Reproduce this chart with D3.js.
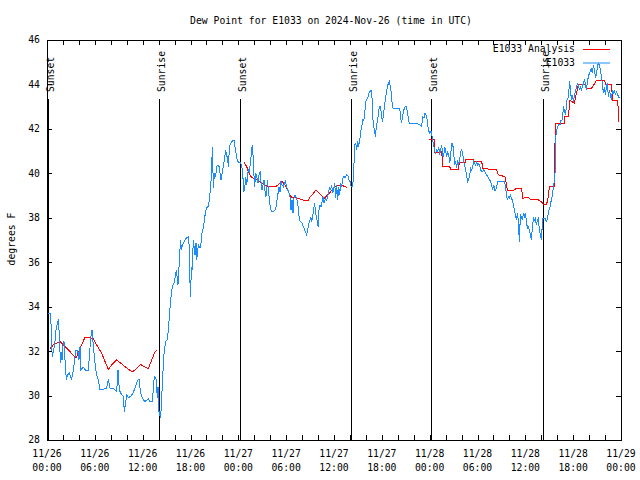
<!DOCTYPE html>
<html><head><meta charset="utf-8">
<script src="https://cdn.jsdelivr.net/npm/d3@7"></script>
<style>
body{margin:0;background:#fff;}
svg text{font-family:"DejaVu Sans Mono","Liberation Mono",monospace;font-size:9.75px;fill:#000;}
</style></head><body>
<svg id="chart" width="640" height="480"></svg>
<script>
// ---------- DATA (hours since 2024-11-26 00:00 UTC, dew point in °F) ----------
const titleText = "Dew Point for E1033 on 2024-Nov-26 (time in UTC)";
const yLabelText = "degrees F";
const yTickValues = [28,30,32,34,36,38,40,42,44,46];
const xMajorHours = [0,6,12,18,24,30,36,42,48,54,60,66,72];
const eventHours = [0.12,14.08,24.2,38.16,48.18,62.18];
const eventNames = ["Sunset","Sunrise","Sunset","Sunrise","Sunset","Sunrise"];
const seriesNames = ["E1033 Analysis","E1033"];

const analysisNight1 = [[0.4,32.12],[0.79,32.28],[1.63,32.43],[2.05,32.28],[2.88,31.98],[3.64,31.68],[4.14,32.12],[4.77,32.62],[5.4,32.59],[5.81,32.57],[6.23,32.28],[6.86,31.9],[7.28,31.53],[7.69,31.18],[8.11,31.38],[8.74,31.6],[9.37,31.42],[9.91,31.27],[10.33,31.15],[10.75,31.07],[11.25,31.22],[11.75,31.4],[12.21,31.3],[12.71,31.22],[13.13,31.6],[13.55,31.98],[13.76,32.02]];
const analysisNight2 = [[24.71,40.5],[25.05,40.3],[25.26,40.08],[25.47,39.93],[25.67,39.82],[25.88,39.78],[26.09,39.73],[26.3,39.7],[26.51,39.65],[26.72,39.63],[26.93,39.55],[27.14,39.52],[27.35,39.48],[27.56,39.43],[28.39,39.43],[28.81,39.43],[29.02,39.48],[29.23,39.55],[29.44,39.63],[29.65,39.58],[29.86,39.48],[30.06,39.33],[30.27,39.18],[30.48,39.03],[30.69,38.92],[30.9,38.92],[31.32,38.88],[31.74,38.85],[32.16,38.8],[32.78,38.8],[32.99,38.92],[33.41,39.1],[33.74,39.25],[34.04,39.13],[34.46,38.98],[34.79,38.88],[35.08,38.98],[35.5,39.13],[35.92,39.33],[36.34,39.43],[36.76,39.48],[36.97,39.48],[37.18,39.43],[37.38,39.4],[37.59,39.37]];
const analysisDay3 = [[47.96,41.53],[48.55,41.53],[48.67,40.9],[49.3,40.98],[49.51,40.98],[49.63,40.33],[50.47,40.33],[50.64,40.18],[51.6,40.18],[51.72,40.48],[52.44,40.48],[52.56,40.63],[53.48,40.63],[53.6,40.53],[54.53,40.53],[54.65,40.23],[55.57,40.18],[56.41,40.15],[56.62,39.93],[57.45,39.85],[57.75,39.25],[58.5,39.22],[58.83,39.32],[59.54,39.32],[59.67,38.88],[60.38,38.92],[60.59,38.83],[61.64,38.8],[62.06,38.7],[62.26,38.58],[62.6,38.58],[62.77,38.73],[62.89,38.98],[63.02,39.4],[63.6,39.4],[63.73,41.5],[63.8,42.25],[64.89,42.25],[64.89,42.55],[65.39,42.55],[65.6,43.3],[66.14,43.15],[66.65,43.98],[67.48,43.98],[67.69,43.83],[68.32,43.83],[68.95,44.2],[69.99,44.2],[70.0,44.02],[70.83,44.02],[70.91,43.3],[71.58,43.3],[71.75,42.33]];

const obsSeries = [[0.13,33.7],[0.38,33.7],[0.50,33.25],[0.59,32.2],[0.67,31.75],[0.79,31.97],[0.92,32.2],[1.0,32.43],[1.13,32.95],[1.30,33.25],[1.42,33.43],[1.51,32.95],[1.63,31.97],[1.71,31.45],[1.80,31.97],[1.88,31.6],[1.97,32.2],[2.13,32.43],[2.26,31.6],[2.43,30.7],[2.59,30.93],[2.80,31.0],[3.09,30.73],[3.30,31.15],[3.47,31.6],[3.64,32.05],[3.85,32.05],[4.01,31.6],[4.14,32.2],[4.22,31.15],[4.56,31.27],[4.81,31.15],[5.18,31.15],[5.31,31.75],[5.48,32.57],[5.64,32.95],[5.81,32.27],[6.06,31.3],[6.23,30.93],[6.44,30.7],[6.65,30.25],[7.07,30.28],[7.48,30.33],[7.69,30.73],[7.90,30.33],[8.32,30.33],[8.74,30.18],[8.91,31.15],[9.07,30.25],[9.37,30.03],[9.58,29.95],[9.70,29.28],[9.83,29.58],[10.0,30.03],[10.2,29.92],[10.5,29.95],[10.75,30.1],[11.04,30.33],[11.37,30.7],[11.54,30.73],[11.75,30.1],[12.0,29.88],[12.25,29.73],[12.5,29.8],[12.71,29.85],[12.92,29.73],[13.21,29.73],[13.46,30.85],[13.67,30.78],[13.84,29.9],[13.92,30.4],[14.05,29.28],
[14.26,28.98],[14.38,29.95],[14.51,30.7],[14.59,31.45],[14.72,32.05],[14.88,32.43],[15.1,32.53],[15.22,32.95],[15.35,33.55],[15.47,34.15],[15.6,34.6],[15.72,34.9],[15.93,35.05],[16.1,35.35],[16.22,35.65],[16.43,34.98],[16.52,35.5],[16.64,36.4],[16.77,37.0],[16.85,36.55],[16.98,36.78],[17.23,36.93],[17.52,37.12],[17.77,37.15],[17.85,36.55],[17.94,35.05],[18.02,34.45],[18.1,35.8],[18.19,35.65],[18.36,37.0],[18.57,36.33],[18.69,36.85],[18.78,36.1],[18.98,36.78],[19.19,36.63],[19.32,36.85],[19.44,37.3],[19.61,37.53],[19.74,37.9],[19.86,38.2],[20.03,38.47],[20.24,38.5],[20.36,38.8],[20.49,39.25],[20.62,39.85],[20.74,41.2],[20.87,39.33],[21.0,40.0],[21.16,39.85],[21.28,40.3],[21.45,40.38],[21.58,40.3],[21.83,39.7],[22.04,40.15],[22.25,40.6],[22.41,41.05],[22.67,40.6],[22.75,40.3],[22.87,41.05],
[22.96,41.28],[23.17,41.43],[23.46,41.5],[23.58,41.2],[23.71,40.9],[23.88,40.53],[24.21,40.48],[24.42,40.38],[24.54,40.0],[24.71,39.18],[24.84,39.48],[24.92,39.85],[25.05,39.48],[25.17,39.93],[25.26,40.15],[25.38,40.08],[25.55,40.6],[25.67,41.05],[25.76,41.28],[25.88,40.6],[25.96,39.93],[26.05,39.4],[26.18,40.0],[26.3,39.85],[26.47,39.55],[26.59,39.93],[26.72,40.08],[26.84,39.63],[26.97,39.25],[27.1,39.48],[27.22,39.7],[27.35,39.18],[27.47,38.95],[27.56,39.33],[27.68,39.7],[27.76,39.18],[27.89,38.88],[28.02,38.43],[28.18,38.28],[28.39,38.28],[28.6,38.35],[28.73,38.5],[28.85,38.8],[28.98,39.1],[29.1,39.4],[29.23,39.18],[29.35,39.63],[29.48,39.48],[29.65,39.4],[29.77,39.55],[29.9,39.63],[30.06,39.4],[30.19,39.25],[30.32,39.18],[30.48,38.95],[30.61,38.35],[30.73,38.8],[30.86,38.2],[30.98,38.88],[31.11,39.03],[31.32,38.88],[31.53,38.43],[31.65,37.9],[31.82,37.83],[31.99,37.75],[32.16,37.6],[32.32,37.45],[32.49,37.3],[32.57,37.23],[32.7,37.45],[32.83,37.75],[32.99,37.9],[33.08,38.05],[33.2,37.83],[33.33,38.05],[33.45,38.43],[33.58,38.65],[33.66,38.28],[33.79,38.05],[33.91,37.83],[34.0,37.6],[34.12,38.35],[34.25,38.58],[34.37,38.5],[34.5,38.73],[34.62,38.95],[34.75,38.65],[34.92,38.88],[35.08,38.8],[35.21,38.95],[35.33,39.18],[35.46,39.4],[35.58,39.25],[35.71,39.48],[35.84,39.1],[35.96,39.33],[36.09,39.55],[36.21,38.88],[36.34,39.48],[36.46,38.8],[36.59,39.4],[36.71,39.03],[36.84,39.55],[36.97,39.4],[37.09,39.78],[37.22,39.85],[37.43,39.82],[37.59,39.93],[37.76,39.88],[37.88,39.7],[38.01,39.63],[38.14,39.4],[38.35,39.4],
[38.51,40.45],[38.64,41.35],[38.76,41.28],[38.84,41.05],[38.97,41.43],[39.09,41.2],[39.26,41.58],[39.39,41.95],[39.51,42.18],[39.6,42.4],[39.72,42.36],[39.85,42.63],[39.97,43.23],[40.1,43.3],[40.27,43.45],[40.39,43.6],[40.52,43.68],[40.64,43.75],[40.77,43.38],[40.85,42.55],[40.98,42.1],[41.1,41.88],[41.19,41.65],[41.31,42.1],[41.44,42.33],[41.56,42.63],[41.69,43.0],[41.81,43.0],[41.94,42.7],[42.06,42.33],[42.19,42.55],[42.31,43.0],[42.44,43.3],[42.56,43.6],[42.69,43.9],[42.82,44.05],[42.94,44.13],[43.07,43.9],[43.19,43.6],[43.32,43.0],[43.44,42.93],[44.2,42.93],[44.33,42.7],[44.45,42.25],[44.58,42.48],[44.70,42.78],[44.83,42.93],[44.95,43.0],[45.08,43.0],[45.20,42.78],[45.33,42.48],[45.45,42.25],[46.16,42.25],[46.58,42.22],[46.79,42.18],[47.0,42.1],
[47.12,42.55],[47.29,42.48],[47.42,42.7],[47.54,42.63],[47.67,42.43],[47.79,42.1],[47.92,41.88],[48.04,41.8],[48.17,41.88],[48.3,41.65],[48.38,41.5],[48.5,41.28],[48.63,40.98],[48.76,40.9],[48.88,41.05],[49.01,40.98],[49.13,41.2],[49.26,40.83],[49.38,41.05],[49.51,41.28],[49.63,40.83],[49.76,40.75],[49.88,41.2],[50.01,40.98],[50.14,40.75],[50.26,40.98],[50.39,40.83],[50.51,40.45],[50.64,40.83],[50.76,41.35],[50.89,41.35],[51.01,40.9],[51.14,40.45],[51.26,40.53],[51.39,40.23],[51.51,40.6],[51.64,40.38],[51.77,40.6],[51.89,40.98],[52.02,41.05],[52.14,40.9],[52.27,40.53],[52.39,40.38],[52.52,40.15],[52.64,39.85],[52.77,39.63],[52.89,39.7],[53.02,39.93],[53.15,40.23],[53.27,40.15],[53.4,40.3],[53.52,40.53],[53.65,40.45],[53.77,40.38],[53.9,40.53],[54.02,40.38],[54.15,40.45],[54.27,40.38],[54.4,40.15],[54.53,40.08],[54.65,40.08],[54.78,40.15],[54.9,40.08],[55.03,40.0],[55.15,39.93],[55.28,39.85],[55.4,39.78],[55.53,39.7],[55.65,39.63],[55.78,39.48],[55.9,39.25],[56.03,39.48],[56.16,39.25],[56.28,39.25],[56.41,39.4],[56.53,39.63],[57.37,39.63],[57.49,39.48],[57.62,39.1],[57.74,38.8],[57.87,38.95],[57.99,38.88],[58.12,39.03],[58.25,38.88],[58.37,38.8],[58.5,38.58],[58.62,38.35],[58.75,38.13],[58.87,37.9],[59.0,38.2],[59.12,37.9],[59.25,36.93],[59.38,38.13],[59.5,38.05],[59.63,37.9],[59.75,38.2],[59.88,38.05],[60.0,38.2],[60.13,37.9],[60.25,37.53],[60.38,37.6],[60.51,37.45],[60.63,37.23],[60.76,37.0],[60.88,37.53],[61.01,37.98],[61.13,37.9],[61.26,37.98],[61.38,37.68],[61.51,37.9],[61.63,37.98],[61.76,37.45],[61.88,37.23],[62.01,37.0],[62.18,37.98],[62.3,37.98],[62.47,37.98],[62.6,37.83],[62.72,37.9],[62.85,38.13],[62.97,38.35],[63.1,38.5],[63.22,38.73],[63.35,38.95],[63.47,39.25],[63.6,39.55],[63.72,39.93],
[63.77,41.5],[63.94,41.95],[64.15,42.18],[64.35,42.18],[64.48,42.4],[64.6,42.4],[64.73,42.78],[64.81,42.93],[64.9,42.85],[65.02,42.63],[65.11,42.85],[65.23,43.3],[65.36,43.38],[65.44,43.45],[65.52,44.13],[65.65,43.9],[65.77,43.3],[65.9,43.53],[66.03,43.23],[66.15,43.45],[66.28,43.68],[66.4,43.83],[66.53,44.05],[66.65,43.98],[66.78,43.75],[66.9,43.9],[67.03,43.75],[67.15,43.9],[67.28,44.05],[67.41,44.2],[67.53,44.05],[67.66,43.75],[67.78,44.13],[67.91,44.35],[68.03,44.5],[68.16,44.58],[68.28,44.73],[68.41,44.5],[68.53,44.88],[68.66,44.65],[68.79,44.35],[68.91,44.43],[69.04,44.8],[69.16,44.95],[69.29,44.9],[69.41,44.65],[69.54,44.35],[69.66,44.05],[69.79,43.6],[69.91,43.9],[70.04,43.53],[70.17,43.9],[70.29,44.05],[70.42,43.45],[70.54,43.75],[70.67,43.53],[70.79,43.3],[70.92,43.75],[71.04,43.6],[71.17,43.75],[71.29,43.53],[71.42,43.68],[71.54,43.6],[71.67,43.45],[71.8,43.38]];

// ---------- DRAWING ----------
const startMs = Date.UTC(2024,10,26,0,0,0);
const toDate = h => new Date(startMs + h*3600e3);
const colors = {analysis:"#ff0000", obs:"#1a8cff"};
const M = {left:47, right:621, top:40, bottom:440};

const svg = d3.select("#chart");
svg.append("rect").attr("width",640).attr("height",480).attr("fill","#fff");

const x = d3.scaleUtc().domain([toDate(0), toDate(72)]).range([M.left, M.right]);
const y = d3.scaleLinear().domain([28,46]).range([M.bottom, M.top]);

// axes (ticks inside on all four sides)
const minorTicks = d3.range(0,73,2).map(toDate);
const majorTicks = xMajorHours.map(toDate);
function styleAxis(g){ g.select(".domain").remove(); g.selectAll("line").attr("stroke","#000").attr("shape-rendering","crispEdges"); }
svg.append("g").attr("transform",`translate(0,${M.bottom})`)
  .call(d3.axisBottom(x).tickValues(minorTicks).tickSize(-5).tickFormat("")).call(styleAxis);
svg.append("g").attr("transform",`translate(0,${M.top})`)
  .call(d3.axisTop(x).tickValues(minorTicks).tickSize(-5).tickFormat("")).call(styleAxis);
svg.append("g").attr("transform",`translate(${M.left},0)`)
  .call(d3.axisLeft(y).tickValues(yTickValues).tickSize(-5).tickFormat("")).call(styleAxis);
svg.append("g").attr("transform",`translate(${M.right},0)`)
  .call(d3.axisRight(y).tickValues(yTickValues).tickSize(-5).tickFormat("")).call(styleAxis);

// y tick labels
svg.append("g").selectAll("text").data(yTickValues).join("text")
  .attr("x", M.left-7).attr("y", d=>y(d)).attr("dy","0.35em")
  .attr("text-anchor","end").text(d=>d);

// x tick labels (two lines)
const fDay = d3.utcFormat("%m/%d"), fTime = d3.utcFormat("%H:%M");
const xl = svg.append("g").selectAll("text").data(majorTicks).join("text")
  .attr("text-anchor","middle");
xl.append("tspan").attr("x",d=>x(d)).attr("y",M.bottom+17).text(d=>fDay(d));
xl.append("tspan").attr("x",d=>x(d)).attr("y",M.bottom+31).text(d=>fTime(d));

// frame
svg.append("rect").attr("x",M.left+0.5).attr("y",M.top+0.5)
  .attr("width",M.right-M.left).attr("height",M.bottom-M.top)
  .attr("fill","none").attr("stroke","#000").attr("shape-rendering","crispEdges");

// title & y label
svg.append("text").attr("x",331).attr("y",24).attr("text-anchor","middle").text(titleText);
svg.append("text").attr("transform","translate(15,239) rotate(-90)").attr("text-anchor","middle").text(yLabelText);

// sunrise / sunset markers
const ev = svg.append("g");
eventHours.forEach((h,i)=>{
  const ex = Math.round(x(toDate(h)))+0.5;
  ev.append("line").attr("x1",ex).attr("x2",ex).attr("y1",99).attr("y2",M.bottom)
    .attr("stroke","#000").attr("stroke-width",1);
  ev.append("text").attr("transform",`translate(${ex+5},92) rotate(-90)`)
    .attr("text-anchor","start").text(eventNames[i]);
});

// data lines
const line = d3.line().x(d=>x(toDate(d[0]))).y(d=>y(d[1]));
[analysisNight1, analysisNight2, analysisDay3].forEach(seg=>{
  svg.append("path").datum(seg).attr("d",line).attr("fill","none")
    .attr("stroke",colors.analysis).attr("stroke-width",1).attr("shape-rendering","crispEdges");
});
svg.append("path").datum(obsSeries).attr("d",line).attr("fill","none")
  .attr("stroke",colors.obs).attr("stroke-width",1).attr("shape-rendering","crispEdges");

// legend
const lg = svg.append("g");
[colors.analysis, colors.obs].forEach((c,i)=>{
  const ly = 49 + i*13.5;
  lg.append("text").attr("x",575).attr("y",ly).attr("dy","0.35em").attr("text-anchor","end").text(seriesNames[i]);
  lg.append("line").attr("x1",583).attr("x2",610).attr("y1",ly+0.5).attr("y2",ly+0.5)
    .attr("stroke",c).attr("stroke-width",1);
});
</script>
</body></html>
